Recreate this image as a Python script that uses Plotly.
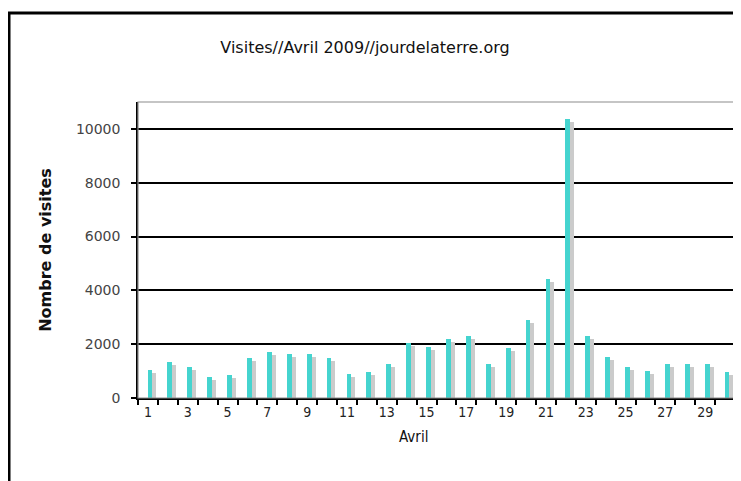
import plotly.graph_objects as go

days = list(range(1, 31))
visits = [1050, 1320, 1140, 770, 840, 1470, 1710, 1650, 1650, 1470,
          880, 950, 1250, 2060, 1910, 2200, 2300, 1250, 1840, 2900,
          4420, 10380, 2300, 1530, 1140, 1010, 1250, 1250, 1250, 950]
y_ticks = [0, 2000, 4000, 6000, 8000, 10000]
x_ticks = list(range(1, 31, 2))

title = "Visites//Avril 2009//jourdelaterre.org"
y_title = "Nombre de visites"
x_title = "Avril"

# The page adds an 8px body margin; positions below are in page pixels
# of the reference and are converted to figure pixels.
W, H = 741, 481
SH = 8
left_px, right_px, top_px, bottom_px = 138 - SH, 735 - SH, 102 - SH, 398 - SH
ML, MR, MT, MB = left_px, W - right_px, top_px, H - bottom_px
pw, ph = W - ML - MR, H - MT - MB

def px_x(p):
    return (p - SH - ML) / pw

def px_y(p):
    return (H - MB - (p - SH)) / ph

shadow_drop = 110  # visual offset of the drop shadow, in axis units

fig = go.Figure()
fig.add_trace(go.Bar(
    x=days, y=[v - shadow_drop for v in visits],
    width=0.24, offset=-0.02 + 0.2,
    marker=dict(color="#CBCBCB", line=dict(width=0)),
    hoverinfo="skip", showlegend=False,
))
fig.add_trace(go.Bar(
    x=days, y=visits,
    width=0.24, offset=-0.02,
    marker=dict(color="#45D4CF", line=dict(width=0)),
    showlegend=False,
))

fig.update_layout(
    width=W, height=H,
    margin=dict(l=ML, r=MR, t=MT, b=MB, autoexpand=False),
    paper_bgcolor="white", plot_bgcolor="white",
    barmode="overlay", bargap=0,
    title=dict(text=title, x=px_x(365), xref="paper", y=1 - (47 - SH) / H,
               yanchor="middle", xanchor="center",
               font=dict(family="DejaVu Sans", size=16, color="#111")),
    font=dict(family="DejaVu Sans", color="#333"),
    shapes=[
        dict(type="rect", xref="paper", yref="paper", x0=0, x1=1, y0=0, y1=1,
             line=dict(color="#8C8C8C", width=1.2), layer="above"),
        dict(type="rect", xref="paper", yref="paper",
             x0=px_x(9), x1=px_x(780), y0=px_y(520), y1=px_y(13),
             line=dict(color="black", width=3), layer="above"),
    ],
    annotations=[
        dict(text=x_title, xref="paper", yref="paper",
             x=px_x(413), y=px_y(437), xanchor="center", yanchor="middle",
             showarrow=False,
             font=dict(family="DejaVu Sans Condensed", size=15, color="#111")),
    ],
)

fig.update_xaxes(
    range=[0.5, 30.5], tickmode="array", tickvals=x_ticks,
    ticktext=[str(t) for t in x_ticks], ticks="",
    showgrid=False, zeroline=False,
    showline=True, linecolor="black", linewidth=1.5,
    tickfont=dict(family="DejaVu Sans Condensed", size=14, color="#222"),
    minor=dict(tick0=0.5, dtick=1, ticks="outside", ticklen=5,
               tickwidth=1.5, tickcolor="black", showgrid=False),
)

fig.update_yaxes(
    range=[0, 11000], tickmode="array", tickvals=y_ticks,
    ticktext=[str(t) for t in y_ticks], tickformat="d",
    ticks="outside", ticklen=5, tickwidth=1.5, tickcolor="black",
    showgrid=True, gridcolor="black", gridwidth=1.6,
    zeroline=False, showline=True, linecolor="black", linewidth=1.5,
    ticklabelstandoff=8,
    tickfont=dict(family="DejaVu Sans", size=14, color="#444"),
    title=dict(text=y_title, standoff=20,
               font=dict(family="DejaVu Sans", size=16, color="#111",
                         weight="bold")),
)

fig.write_html("out.html")
